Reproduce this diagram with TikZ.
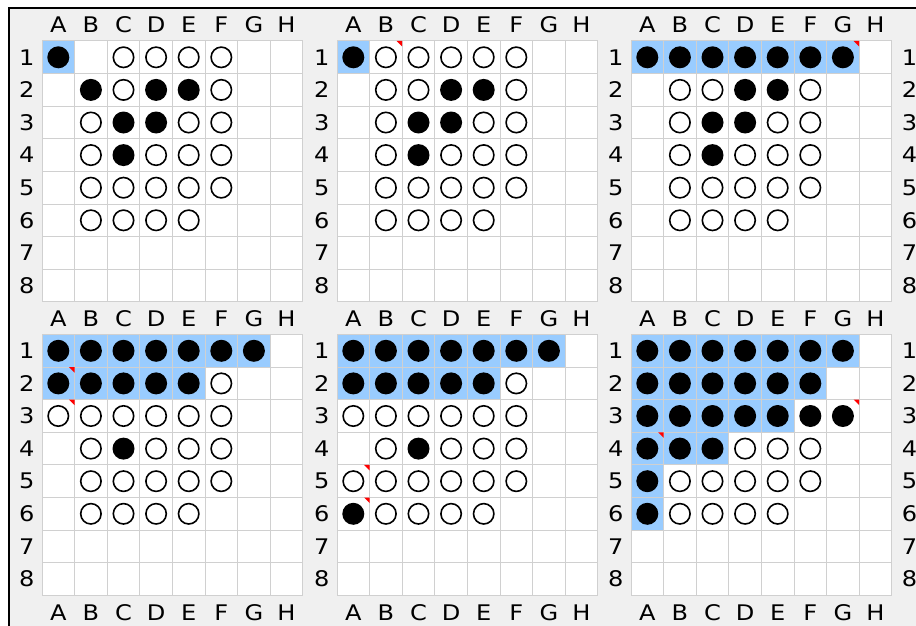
\documentclass[tikz,border=0pt]{standalone}
\usepackage{fontspec}
\newfontfamily\labfont[FakeStretch=1.12]{DejaVu Sans}
\definecolor{bgc}{RGB}{240,240,240}
\definecolor{gridc}{RGB}{208,208,208}
\definecolor{hlc}{RGB}{153,204,255}
\tikzset{
  gridline/.style={draw=gridc, line width=1pt},
  blackstone/.style={fill=black},
  whitestone/.style={draw=black, line width=1.6pt, fill=white},
  lab/.style={font=\labfont\fontsize{21.5}{25}\selectfont, inner sep=0pt, anchor=center},
  comment/.style={fill=red},
  frameline/.style={draw=black, line width=1.5pt},
  hlfill/.style={fill=hlc},
}
\newcommand\boardstart{\fill[white] (0,0) rectangle (8,8);}
\newcommand\boardgrid[1]{%
  \foreach \i in {0,...,8}{\draw[gridline] (\i,0) -- (\i,8); \draw[gridline] (0,\i) -- (8,\i);}
  \foreach \c/\L in {1/A,2/B,3/C,4/D,5/E,6/F,7/G,8/H}{\node[lab] (#1-t\L) at (\c-0.5,-0.49) {\L};}
  \foreach \r in {1,...,8}{\node[lab] (#1-l\r) at (-0.47,\r-0.5) {\r};}
}
\newcommand\bottomlabels[1]{%
  \foreach \c/\L in {1/A,2/B,3/C,4/D,5/E,6/F,7/G,8/H}{\node[lab] (#1-b\L) at (\c-0.5,8.52) {\L};}}
\newcommand\rightlabels[1]{%
  \foreach \r in {1,...,8}{\node[lab] (#1-r\r) at (8.54,\r-0.5) {\r};}}
\newcommand\stones[2]{%
  \foreach \c/\r in {#1}{\fill[blackstone] (\c-0.5,\r-0.5) circle[radius=11pt];}
  \foreach \c/\r in {#2}{\draw[whitestone] (\c-0.5,\r-0.5) circle[radius=10.2pt];}}
\newcommand\hlrect[4]{\fill[hlfill] (#1-1,#2-1) rectangle (#3,#4);}
\newcommand\cmtmark[2]{\fill[comment] (#1,#2-1) -- +(-5.5pt,0pt) -- +(0pt,-5.5pt) -- cycle;}
\begin{document}
\begin{tikzpicture}[x=1pt,y=-1pt]
\useasboundingbox (0,0) rectangle (916,626);
\fill[white] (0,0) rectangle (916,626);
\fill[bgc] (9,8) rectangle (916,626);
\draw[frameline] (9,626) -- (9,8) -- (916,8);

% Panel 1
\begin{scope}[shift={(42pt,-41pt)}, x=32.6pt, y=-32.6pt]
  \boardstart
  \hlrect{1}{1}{1}{1}
  \boardgrid{p1}
  \stones{1/1,2/2,4/2,5/2,3/3,4/3,3/4}
         {3/1,4/1,5/1,6/1,3/2,6/2,2/3,5/3,6/3,2/4,4/4,5/4,6/4,2/5,3/5,4/5,5/5,6/5,2/6,3/6,4/6,5/6}
\end{scope}

% Panel 2
\begin{scope}[shift={(337pt,-41pt)}, x=32.6pt, y=-32.6pt]
  \boardstart
  \hlrect{1}{1}{1}{1}
  \boardgrid{p2}
  \stones{1/1,4/2,5/2,3/3,4/3,3/4}
         {2/1,3/1,4/1,5/1,6/1,2/2,3/2,6/2,2/3,5/3,6/3,2/4,4/4,5/4,6/4,2/5,3/5,4/5,5/5,6/5,2/6,3/6,4/6,5/6}
  \cmtmark{2}{1}
\end{scope}

% Panel 3
\begin{scope}[shift={(631pt,-41pt)}, x=32.6pt, y=-32.6pt]
  \boardstart
  \hlrect{1}{1}{7}{1}
  \boardgrid{p3}
  \rightlabels{p3}
  \stones{1/1,2/1,3/1,4/1,5/1,6/1,7/1,4/2,5/2,3/3,4/3,3/4}
         {2/2,3/2,6/2,2/3,5/3,6/3,2/4,4/4,5/4,6/4,2/5,3/5,4/5,5/5,6/5,2/6,3/6,4/6,5/6}
  \cmtmark{7}{1}
\end{scope}

% Panel 4
\begin{scope}[shift={(42pt,-334.5pt)}, x=32.6pt, y=-32.6pt]
  \boardstart
  \hlrect{1}{1}{7}{1}
  \hlrect{1}{2}{5}{2}
  \boardgrid{p4}
  \bottomlabels{p4}
  \stones{1/1,2/1,3/1,4/1,5/1,6/1,7/1,1/2,2/2,3/2,4/2,5/2,3/4}
         {6/2,1/3,2/3,3/3,4/3,5/3,6/3,2/4,4/4,5/4,6/4,2/5,3/5,4/5,5/5,6/5,2/6,3/6,4/6,5/6}
  \cmtmark{1}{2}
  \cmtmark{1}{3}
\end{scope}

% Panel 5
\begin{scope}[shift={(337pt,-334.5pt)}, x=32.6pt, y=-32.6pt]
  \boardstart
  \hlrect{1}{1}{7}{1}
  \hlrect{1}{2}{5}{2}
  \boardgrid{p5}
  \bottomlabels{p5}
  \stones{1/1,2/1,3/1,4/1,5/1,6/1,7/1,1/2,2/2,3/2,4/2,5/2,3/4,1/6}
         {6/2,1/3,2/3,3/3,4/3,5/3,6/3,2/4,4/4,5/4,6/4,1/5,2/5,3/5,4/5,5/5,6/5,2/6,3/6,4/6,5/6}
  \cmtmark{1}{5}
  \cmtmark{1}{6}
\end{scope}

% Panel 6
\begin{scope}[shift={(631pt,-334.5pt)}, x=32.6pt, y=-32.6pt]
  \boardstart
  \hlrect{1}{1}{7}{1}
  \hlrect{1}{2}{6}{2}
  \hlrect{1}{3}{5}{3}
  \hlrect{1}{4}{3}{4}
  \hlrect{1}{5}{1}{6}
  \boardgrid{p6}
  \bottomlabels{p6}
  \rightlabels{p6}
  \stones{1/1,2/1,3/1,4/1,5/1,6/1,7/1,1/2,2/2,3/2,4/2,5/2,6/2,1/3,2/3,3/3,4/3,5/3,6/3,7/3,1/4,2/4,3/4,1/5,1/6}
         {4/4,5/4,6/4,2/5,3/5,4/5,5/5,6/5,2/6,3/6,4/6,5/6}
  \cmtmark{7}{3}
  \cmtmark{1}{4}
\end{scope}
\end{tikzpicture}
\end{document}
